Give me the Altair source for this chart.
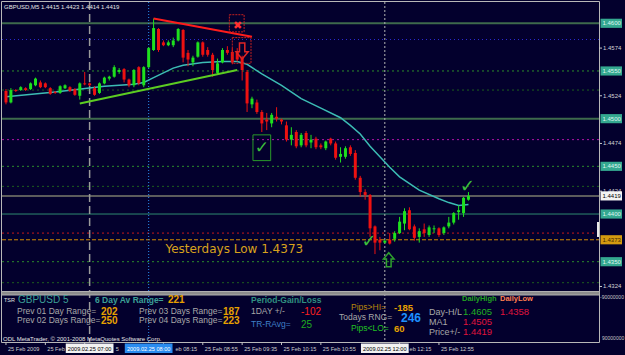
import altair as alt
import pandas as pd

# ---------------- data (GBPUSD M5, 25 Feb 2009, bars from 05:35 to 13:25) ----------------
# prices in points (1 point = 0.0001)
open_pts = [14529, 14517, 14530, 14530, 14532, 14531, 14535, 14538, 14537, 14532,
            14528, 14527, 14532, 14533, 14531, 14524, 14537, 14537, 14532, 14527,
            14537, 14542, 14544, 14549, 14552, 14541, 14535, 14554, 14535, 14554,
            14572, 14594, 14580, 14577, 14577, 14582, 14593, 14569, 14559, 14565,
            14580, 14572, 14567, 14548, 14559, 14572, 14570, 14570, 14564, 14549,
            14515, 14517, 14507, 14499, 14495, 14502, 14499, 14493, 14478, 14486,
            14472, 14485, 14475, 14479, 14472, 14469, 14479, 14474, 14460, 14460,
            14470, 14464, 14438, 14423, 14420, 14387, 14373, 14370, 14373, 14374,
            14380, 14390, 14404, 14387, 14376, 14384, 14378, 14384, 14385, 14380,
            14387, 14391, 14402, 14401, 14415]
high_pts = [14531, 14532, 14531, 14534, 14533, 14538, 14543, 14540, 14538, 14533,
            14529, 14535, 14536, 14534, 14532, 14538, 14549, 14538, 14534, 14538,
            14544, 14545, 14556, 14553, 14553, 14542, 14552, 14555, 14555, 14575,
            14605, 14595, 14582, 14582, 14585, 14595, 14594, 14572, 14566, 14581,
            14581, 14575, 14569, 14563, 14574, 14576, 14574, 14574, 14566, 14551,
            14523, 14520, 14509, 14506, 14506, 14512, 14500, 14497, 14491, 14488,
            14485, 14487, 14483, 14481, 14474, 14477, 14480, 14476, 14470, 14471,
            14472, 14467, 14440, 14426, 14421, 14388, 14376, 14373, 14380, 14382,
            14397, 14406, 14407, 14389, 14385, 14390, 14388, 14388, 14386, 14387,
            14397, 14402, 14409, 14418, 14423]
low_pts = [14515, 14516, 14528, 14529, 14529, 14530, 14534, 14532, 14532, 14525,
           14526, 14526, 14531, 14528, 14524, 14520, 14535, 14534, 14524, 14526,
           14536, 14540, 14543, 14547, 14538, 14533, 14533, 14535, 14533, 14553,
           14571, 14570, 14576, 14576, 14575, 14581, 14559, 14555, 14555, 14564,
           14565, 14565, 14544, 14547, 14558, 14567, 14557, 14560, 14540, 14507,
           14511, 14505, 14486, 14488, 14491, 14497, 14494, 14476, 14472, 14469,
           14470, 14470, 14469, 14468, 14468, 14467, 14472, 14457, 14454, 14458,
           14461, 14436, 14418, 14415, 14376, 14358, 14362, 14369, 14368, 14371,
           14379, 14383, 14383, 14372, 14370, 14376, 14376, 14380, 14376, 14378,
           14385, 14389, 14394, 14397, 14414]
close_pts = [14517, 14530, 14529, 14533, 14530, 14537, 14542, 14533, 14533, 14526,
             14527, 14534, 14535, 14529, 14525, 14537, 14536, 14535, 14525, 14537,
             14543, 14544, 14554, 14551, 14541, 14535, 14551, 14537, 14554, 14574,
             14595, 14572, 14577, 14580, 14582, 14594, 14564, 14562, 14564, 14580,
             14567, 14567, 14551, 14558, 14572, 14569, 14559, 14562, 14551, 14516,
             14521, 14507, 14495, 14497, 14504, 14500, 14497, 14478, 14483, 14471,
             14483, 14472, 14478, 14470, 14470, 14476, 14474, 14459, 14463, 14469,
             14463, 14438, 14423, 14420, 14385, 14370, 14370, 14372, 14369, 14380,
             14392, 14403, 14384, 14375, 14382, 14380, 14386, 14385, 14378, 14386,
             14391, 14401, 14404, 14417, 14419]

# moving average read at some bars
ma_bar = [0, 10, 20, 26, 28, 30, 32, 34, 36, 40, 44, 47, 49, 52, 56, 60, 64, 68,
          70, 72, 74, 76, 78, 80, 84, 88, 90, 92, 94]
ma_pts = [14523, 14528, 14534, 14536, 14538, 14543, 14548, 14553, 14556, 14559,
          14560, 14560, 14557, 14547, 14535, 14521, 14511, 14501, 14493, 14484,
          14471, 14460, 14449, 14439, 14425, 14416, 14412, 14409, 14410]

# trend lines
trend_red_bar = [30, 50]
trend_red_pts = [14605, 14586]
trend_green_bar = [15, 47]
trend_green_pts = [14516, 14551]

# horizontal levels
level_solid = [1.4600, 1.4500]
level_green_dot = [1.4550, 1.4450, 1.4350]
level_dark_dot = [1.4530, 1.4429, 1.4328]
level_blue_dot = [1.4583]
level_magenta_dot = [1.4478]
level_red_dot = [1.4380]
level_price = [1.4419]
level_teal = [1.4400]
level_ydl = [1.4373]

# vertical lines (bar index)
vline_day = [17]
vline_blue = [29]
vline_gray = [77]

# time axis: the visible parts of the labels (others are hidden under the marker boxes)
time_tick_bars = [0, 8, 16, 32, 40, 48, 56, 64, 80, 88]
time_tick_labels = ["25 Feb 2009", "25 Feb 0", "5", "eb 08:15", "25 Feb 08:55",
                    "25 Feb 09:35", "25 Feb 10:15", "25 Feb 10:55", "eb 12:15", "25 Feb 12:55"]
time_tick_shift = [2, 2, 31, 12, 2, 2, 2, 2, 10, 2]
time_marker_bars = [17, 29, 77]
time_marker_labels = ["2009.02.25 07:00", "2009.02.25 08:00", "2009.02.25 12:00"]

# price axis
axis_plain = [1.4574, 1.4524, 1.4474, 1.4424, 1.4324]
axis_boxed = [1.4600, 1.4550, 1.4500, 1.4450, 1.4400, 1.4350]
axis_ydl = [1.4373]
axis_price = [1.4419]

# ---------------- chart ----------------
BG = "#03002d"
W, H = 625, 355
xsc = alt.Scale(domain=[-0.2, 124.8], nice=False, zero=False)
ysc = alt.Scale(domain=[1.425216, 1.462443], nice=False, zero=False)
FONT = "Liberation Sans"
one = pd.DataFrame({"k": [0]})
ARROW_DOWN = "M-0.33,-1 L0.33,-1 L0.33,0.1 L0.75,0.1 L0,1 L-0.75,0.1 L-0.33,0.1 Z"
ARROW_UP = "M-0.33,1 L0.33,1 L0.33,-0.1 L0.75,-0.1 L0,-1 L-0.75,-0.1 L-0.33,-0.1 Z"


def X(f):
    return alt.X(f + ":Q", scale=xsc, axis=None)


def Y(f):
    return alt.Y(f + ":Q", scale=ysc, axis=None)


def label(text, x, y, color, size, bold=False, font=FONT, align="left"):
    return alt.Chart(one).mark_text(
        text=text, font=font, fontSize=size, fontWeight="bold" if bold else "normal",
        color=color, align=align, baseline="middle"
    ).encode(x=alt.value(x), y=alt.value(y))


def prect(x, x2, y, y2, **kw):
    return alt.Chart(one).mark_rect(**kw).encode(
        x=alt.value(x), x2=alt.value(x2), y=alt.value(y), y2=alt.value(y2))


def hlevels(vals, color, width=1, dash=None):
    kw = dict(color=color, strokeWidth=width)
    if dash:
        kw["strokeDash"] = dash
    return alt.Chart(pd.DataFrame({"p": vals})).mark_rule(**kw).encode(
        y=Y("p"), x=alt.value(2), x2=alt.value(599))


def vlines(idx, color, width=1, dash=None):
    kw = dict(color=color, strokeWidth=width)
    if dash:
        kw["strokeDash"] = dash
    return alt.Chart(pd.DataFrame({"i": idx})).mark_rule(**kw).encode(
        x=X("i"), y=alt.value(2), y2=alt.value(342))


def glyph(text, i, p, color, size, bold=False, font="DejaVu Sans"):
    return alt.Chart(pd.DataFrame({"i": [i], "p": [p]})).mark_text(
        text=text, font=font, fontSize=size, fontWeight="bold" if bold else "normal",
        color=color, align="center", baseline="middle"
    ).encode(x=X("i"), y=Y("p"))


def arrow(path, i, p, color, size):
    return alt.Chart(pd.DataFrame({"i": [i], "p": [p]})).mark_point(
        shape=path, size=size, filled=False, stroke=color, strokeWidth=1.5, opacity=1
    ).encode(x=X("i"), y=Y("p"))


def dbox(i0, i1, p0, p1, color, dash=None, width=1):
    kw = dict(stroke=color, strokeWidth=width, filled=False)
    if dash:
        kw["strokeDash"] = dash
    return alt.Chart(pd.DataFrame({"i0": [i0], "i1": [i1], "p0": [p0], "p1": [p1]})).mark_rect(
        **kw).encode(x=X("i0"), x2="i1", y=Y("p0"), y2="p1")


candles = pd.DataFrame({
    "i": list(range(len(open_pts))),
    "o": [v / 10000 for v in open_pts],
    "h": [v / 10000 for v in high_pts],
    "l": [v / 10000 for v in low_pts],
    "c": [v / 10000 for v in close_pts],
})
candles["col"] = ["#1ee01e" if c >= o else "#ee1111" for o, c in zip(candles["o"], candles["c"])]

ma = pd.DataFrame({"i": ma_bar, "p": [v / 10000 for v in ma_pts]})
tr_red = pd.DataFrame({"i": trend_red_bar, "p": [v / 10000 for v in trend_red_pts]})
tr_green = pd.DataFrame({"i": trend_green_bar, "p": [v / 10000 for v in trend_green_pts]})

layers = []

# background levels
layers += [
    hlevels(level_solid, "#3e6a4c", 2),
    hlevels(level_blue_dot, "#2a2ad0", 1, [1, 3]),
    hlevels(level_green_dot, "#2c8c2c", 1, [2, 3]),
    hlevels(level_dark_dot, "#1d5e1d", 1, [2, 3]),
    hlevels(level_magenta_dot, "#b014a8", 1, [2, 3]),
    hlevels(level_price, "#5c5c5c", 2),
    hlevels(level_teal, "#2f8a70", 1),
    hlevels(level_red_dot, "#c81818", 1, [2, 3]),
    hlevels(level_ydl, "#d08a00", 1, [4, 2]),
]

# vertical lines
layers += [
    vlines(vline_day, "#9a9a9a", 1.5, [8, 4]),
    vlines(vline_blue, "#2a8cf0", 1, [1, 2]),
    vlines(vline_gray, "#b4b4b4", 1, [2, 2]),
]

# frame and panel separator
layers += [
    prect(1.5, 599.5, 1.5, 342.5, filled=False, stroke="#b8b8b8", strokeWidth=1),
    prect(1.5, 599.5, 291.5, 295, fill="#8c8c8c", stroke="#b0b0b0", strokeWidth=1),
]

# moving average
layers.append(alt.Chart(ma).mark_line(color="#3cbcb4", strokeWidth=1.5).encode(x=X("i"), y=Y("p")))

# candles
cb = alt.Chart(candles)
layers.append(cb.mark_rule(strokeWidth=1).encode(
    x=X("i"), y=Y("l"), y2="h", color=alt.Color("col:N", scale=None)))
layers.append(cb.mark_bar(width=3).encode(
    x=X("i"), y=Y("o"), y2="c", color=alt.Color("col:N", scale=None)))

# trend lines
layers.append(alt.Chart(tr_red).mark_line(color="#ff1c1c", strokeWidth=2).encode(x=X("i"), y=Y("p")))
layers.append(alt.Chart(tr_green).mark_line(color="#5ccc22", strokeWidth=2).encode(x=X("i"), y=Y("p")))

# signal annotations
layers += [
    dbox(45.4, 48.4, 1.4609, 1.4591, "#c42020", [2, 1]),
    glyph("✖", 47.1, 1.4597, "#ff3030", 11),
    dbox(46.0, 49.8, 1.4585, 1.4558, "#c42020", [2, 1]),
    arrow(ARROW_DOWN, 48.0, 1.4571, "#e02424", 260),
    dbox(50.2, 53.8, 1.4483, 1.4456, "#2a9a2a", None, 1),
    glyph("✓", 52.0, 1.4469, "#3cbf3c", 17),
    glyph("✓", 73.8, 1.4371, "#3cbf3c", 18),
    glyph("✓", 93.8, 1.4428, "#3cbf3c", 18),
    arrow(ARROW_UP, 77.8, 1.4352, "#2ea02e", 200),
]
layers.append(alt.Chart(pd.DataFrame({"i": [32.4], "p": [1.4363]})).mark_text(
    text="Yesterdays Low 1.4373", font="DejaVu Sans", fontSize=12, color="#d9a21c",
    align="left", baseline="middle").encode(x=X("i"), y=Y("p")))

# header
last = len(open_pts) - 1
header = "GBPUSD,M5  %.4f %.4f %.4f %.4f" % (open_pts[last] / 1e4, high_pts[last] / 1e4,
                                             low_pts[last] / 1e4, close_pts[last] / 1e4)
layers.append(label(header, 4, 6.5, "#e6e6e6", 6))

# price axis
layers.append(alt.Chart(pd.DataFrame({"p": axis_plain})).mark_rule(color="#c8c8c8").encode(
    y=Y("p"), x=alt.value(599), x2=alt.value(602)))
layers.append(alt.Chart(pd.DataFrame({"p": axis_plain})).mark_text(
    font=FONT, fontSize=6, color="#d4d4d4", align="left", baseline="middle").encode(
    y=Y("p"), x=alt.value(603), text=alt.Text("p:Q", format=".4f")))


def boxed_axis(vals, fill, tcolor):
    d = pd.DataFrame({"p": vals})
    b = alt.Chart(d).transform_calculate(p0="datum.p + 0.00048", p1="datum.p - 0.00048").mark_rect(
        fill=fill).encode(y=Y("p0"), y2="p1", x=alt.value(600.5), x2=alt.value(622))
    t = alt.Chart(d).mark_text(font=FONT, fontSize=6, color=tcolor, align="left",
                               baseline="middle").encode(
        y=Y("p"), x=alt.value(602.5), text=alt.Text("p:Q", format=".4f"))
    return [b, t]


layers += boxed_axis(axis_boxed, "#34a890", "#dff7f0")
layers += boxed_axis(axis_ydl, "#d49a10", "#402800")
layers += boxed_axis(axis_price, "#f4f4f4", "#000000")
layers.append(prect(597, 599, 222, 237, fill="#e8e8e8"))
layers.append(label("-90000000", 600, 296.5, "#c8c8c8", 5))
layers.append(label("90000000", 602, 338, "#c8c8c8", 5))

# time axis
tick_df = pd.DataFrame({"i": time_tick_bars})
layers.append(alt.Chart(tick_df).mark_rule(color="#c0c0c0").encode(
    x=X("i"), y=alt.value(342), y2=alt.value(345)))
for b, t, s in zip(time_tick_bars, time_tick_labels, time_tick_shift):
    layers.append(alt.Chart(pd.DataFrame({"i": [b]})).mark_text(
        text=t, font=FONT, fontSize=5.6, color="#cccccc", align="left",
        baseline="middle", dx=s).encode(x=X("i"), y=alt.value(348.5)))
tm = pd.DataFrame({"i": time_marker_bars, "t": time_marker_labels,
                   "f": ["#f2f2f2", "#2a8cf0", "#f2f2f2"], "tc": ["#000000", "#ffffff", "#000000"]})
layers.append(alt.Chart(tm).transform_calculate(i0="datum.i - 4.85", i1="datum.i + 4.85").mark_rect().encode(
    x=X("i0"), x2="i1", y=alt.value(343.5), y2=alt.value(353), fill=alt.Fill("f:N", scale=None)))
layers.append(alt.Chart(tm).mark_text(font=FONT, fontSize=5.6, align="center", baseline="middle").encode(
    x=X("i"), y=alt.value(348.5), text="t:N", color=alt.Color("tc:N", scale=None)))

# info panel
GRAY = "#a8a8a8"
ORG = "#e8a000"
TEAL = "#3c9f96"
CRIM = "#e0143c"
layers += [
    label("TSR", 4, 299.5, "#e0e0e0", 5.5),
    label("GBPUSD 5", 18, 300, TEAL, 10),
    label("6 Day Av Range=", 95, 300, TEAL, 8.5, True),
    label("221", 168, 300, ORG, 10, True),
    label("Period-Gain/Loss", 251, 300, "#2f8f80", 8.5, True),
    label("Prev 01 Day Range=", 17, 311, GRAY, 8.5),
    label("202", 101, 311.5, ORG, 10, True),
    label("Prev 02 Days Range=", 17, 320, GRAY, 8.5),
    label("250", 101, 321, ORG, 10, True),
    label("Prev 03 Days Range=", 139, 311, GRAY, 8.5),
    label("187", 223, 311.5, ORG, 10, True),
    label("Prev 04 Days Range=", 139, 320, GRAY, 8.5),
    label("223", 223, 321, ORG, 10, True),
    label("1DAY   +/-", 251, 311, GRAY, 8.5),
    label("-102", 301, 312, "#ff2020", 10),
    label("TR-RAvg=", 251, 324, "#3f7fc8", 8.5),
    label("25", 301, 324.5, "#1faa1f", 10),
    label("Pips>HI=", 351, 307, "#b8860b", 8.5),
    label("-185", 394, 307.5, ORG, 9.5, True),
    label("Todays RNG=", 339, 317, GRAY, 8.5),
    label("246", 401, 318, "#1e90ff", 12, True),
    label("Pips<LO=", 351, 328, "#22c022", 8.5),
    label("60", 394, 328.5, ORG, 9.5, True),
    label("DailyHigh", 462, 299, "#22a022", 7.5, True),
    label("DailyLow", 500, 299, "#ff7f50", 7.5, True),
    label("Day-H/L", 429, 312, GRAY, 9),
    label("1.4605", 463, 312, "#22b022", 9.5),
    label("1.4358", 500, 312, CRIM, 9.5),
    label("MA1", 429, 322, GRAY, 9),
    label("1.4505", 463, 322, CRIM, 9.5),
    label("Price+/-", 429, 332, GRAY, 9),
    label("1.4419", 463, 332, CRIM, 9.5),
    label("ODL MetaTrader, © 2001-2008 MetaQuotes Software Corp.", 3, 339, "#e6e6e6", 6),
]

chart = alt.layer(*layers).properties(
    width=W, height=H, background=BG, padding=0,
    autosize=alt.AutoSizeParams(type="none"),
).configure_view(strokeWidth=0)

chart.save("out.html", embed_options={"renderer": "svg", "actions": False})
